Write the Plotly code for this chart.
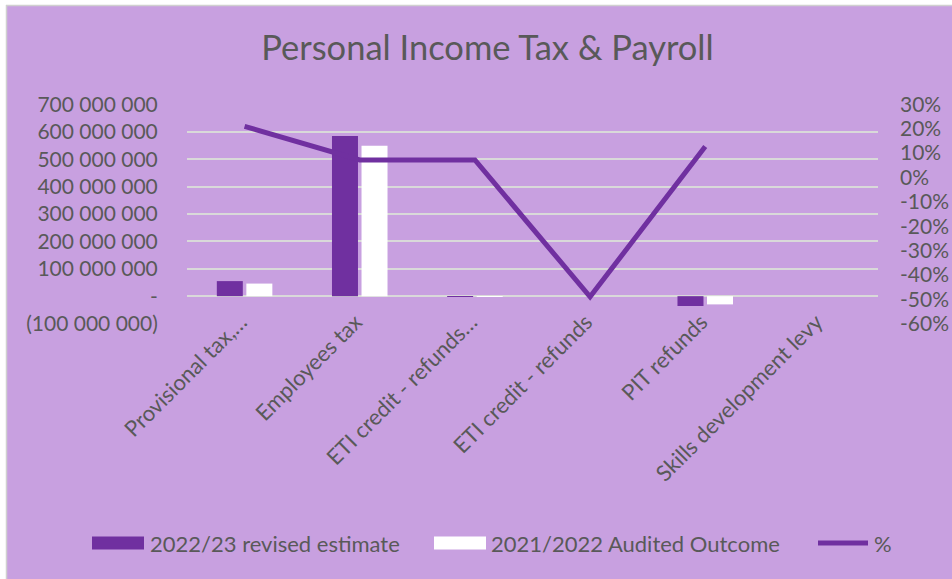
import plotly.graph_objects as go

categories = ["Provisional tax,…", "Employees tax", "ETI credit - refunds…",
              "ETI credit - refunds", "PIT refunds", "Skills development levy"]
revised_2022_23 = [55_000_000, 585_000_000, -3_000_000, None, -36_000_000, None]
audited_2021_22 = [46_000_000, 549_000_000, -1_000_000, None, -30_000_000, None]
pct_change = [0.21, 0.072, 0.072, -0.49, 0.127, None]

left_tickvals = [-100_000_000, 0, 100_000_000, 200_000_000, 300_000_000,
                 400_000_000, 500_000_000, 600_000_000, 700_000_000]
left_ticktext = ["(100 000 000)", "-", "100 000 000", "200 000 000", "300 000 000",
                 "400 000 000", "500 000 000", "600 000 000", "700 000 000"]
right_tickvals = [-0.6, -0.5, -0.4, -0.3, -0.2, -0.1, 0.0, 0.1, 0.2, 0.3]
right_ticktext = ["-60%", "-50%", "-40%", "-30%", "-20%", "-10%", "0%", "10%", "20%", "30%"]

series_names = ["2022/23 revised estimate", "2021/2022 Audited Outcome", "%"]

BG = "#C8A0E0"
DARK = "#7030A0"
TXT = "#595959"
FONT = "Lato"

fig = go.Figure()
fig.add_trace(go.Bar(x=categories, y=revised_2022_23, name=series_names[0],
                     marker=dict(color=DARK, line=dict(width=0))))
fig.add_trace(go.Bar(x=categories, y=audited_2021_22, name=series_names[1],
                     marker=dict(color="#FFFFFF", line=dict(width=0))))
fig.add_trace(go.Scatter(x=categories, y=pct_change, name=series_names[2], yaxis="y2", mode="lines",
                         line=dict(color=DARK, width=5), connectgaps=False))

W, H = 952, 579
ml, mr, mt, mb = 187, 74, 104, 255
pw = W - ml - mr
ph = H - mt - mb

def px_x(p):
    return (p - ml) / pw

def px_y(p):
    return (H - mb - p) / ph

y1min, y1max = -100_000_000, 700_000_000
y2min, y2max = -0.6, 0.3
pad = 0.002
s1 = (y1max - y1min) * pad
s2 = (y2max - y2min) * pad

# legend (drawn as real text + swatches, positioned like the original)
LEG_Y = 543
shapes = [
    dict(type="rect", xref="paper", yref="paper", x0=px_x(0), x1=px_x(W), y0=px_y(0), y1=px_y(5),
         fillcolor="white", line=dict(width=0), layer="above"),
    dict(type="rect", xref="paper", yref="paper", x0=px_x(0), x1=px_x(6), y0=px_y(0), y1=px_y(H),
         fillcolor="white", line=dict(width=0), layer="above"),
    dict(type="line", xref="paper", yref="paper", x0=px_x(6), x1=px_x(W), y0=px_y(5.5), y1=px_y(5.5),
         line=dict(color="#D0D0D0", width=1.5), layer="above"),
    dict(type="line", xref="paper", yref="paper", x0=px_x(6.5), x1=px_x(6.5), y0=px_y(5), y1=px_y(H),
         line=dict(color="#D0D0D0", width=1.5), layer="above"),
    dict(type="rect", xref="paper", yref="paper", x0=px_x(92), x1=px_x(144),
         y0=px_y(LEG_Y + 6.5), y1=px_y(LEG_Y - 6.5), fillcolor=DARK, line=dict(width=0)),
    dict(type="rect", xref="paper", yref="paper", x0=px_x(434), x1=px_x(486),
         y0=px_y(LEG_Y + 6.5), y1=px_y(LEG_Y - 6.5), fillcolor="#FFFFFF", line=dict(width=0)),
    dict(type="line", xref="paper", yref="paper", x0=px_x(818), x1=px_x(868),
         y0=px_y(LEG_Y), y1=px_y(LEG_Y), line=dict(color=DARK, width=5)),
]
annotations = [
    dict(text=series_names[0], xref="paper", yref="paper", x=px_x(148), y=px_y(LEG_Y),
         xanchor="left", yanchor="middle", showarrow=False, font=dict(size=22, color=TXT, family=FONT)),
    dict(text=series_names[1], xref="paper", yref="paper", x=px_x(489), y=px_y(LEG_Y),
         xanchor="left", yanchor="middle", showarrow=False, font=dict(size=22, color=TXT, family=FONT)),
    dict(text=series_names[2], xref="paper", yref="paper", x=px_x(872), y=px_y(LEG_Y),
         xanchor="left", yanchor="middle", showarrow=False, font=dict(size=22, color=TXT, family=FONT)),
]

fig.update_layout(
    width=W, height=H,
    margin=dict(l=ml, r=mr, t=mt, b=mb, pad=0),
    paper_bgcolor=BG, plot_bgcolor=BG,
    font=dict(family=FONT, color=TXT, size=21),
    title=dict(text="Personal Income Tax & Payroll", x=0.512, xanchor="center",
               y=1 - 48 / H, yanchor="middle", font=dict(size=34.5, color=TXT, family=FONT)),
    barmode="group", bargap=0.487, bargroupgap=0.12,
    showlegend=False,
    xaxis=dict(tickangle=-45, showgrid=False, showline=False, zeroline=False, automargin=False,
               ticks="", ticklabelstandoff=-20, ticklabelshift=-4,
               tickfont=dict(size=22, color=TXT, family=FONT)),
    yaxis=dict(range=[y1min - s1, y1max + s1], tickvals=left_tickvals, ticktext=left_ticktext,
               showgrid=True, gridcolor="#D9D9D9", gridwidth=1.5, zeroline=False, automargin=False,
               showline=False, ticks="outside", ticklen=24, tickcolor="rgba(0,0,0,0)",
               tickfont=dict(size=21, color=TXT, family=FONT)),
    yaxis2=dict(range=[y2min - s2, y2max + s2], tickvals=right_tickvals, ticktext=right_ticktext,
                overlaying="y", side="right", showgrid=False, zeroline=False, showline=False,
                automargin=False, ticks="", ticklabelstandoff=21,
                tickfont=dict(size=21, color=TXT, family=FONT)),
    shapes=shapes,
    annotations=annotations,
)

fig.write_html("out.html", config={"displayModeBar": False},
               post_script="document.body.style.margin='0';document.body.style.overflow='hidden';")
